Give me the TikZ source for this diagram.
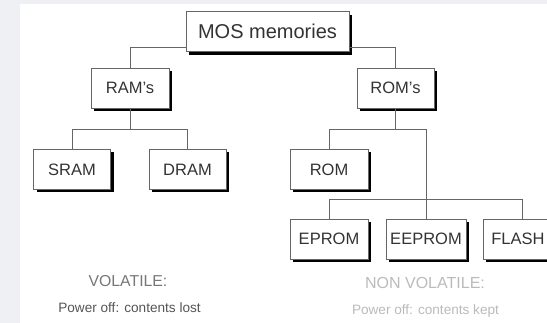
\documentclass[tikz,border=0pt]{standalone}
\usepackage{fontspec}
\setmainfont{Liberation Sans}
\usetikzlibrary{shadows}
\definecolor{bggray}{HTML}{EEF0F4}
\definecolor{edge}{HTML}{666666}
\definecolor{boxtext}{HTML}{333333}
\definecolor{voltext}{HTML}{777777}
\definecolor{lostext}{HTML}{555555}
\definecolor{nvtext}{HTML}{BBBBBB}
\begin{document}
\begin{tikzpicture}[x=1pt,y=-1pt,
  membox/.style={draw=edge, fill=white, line width=0.8pt, inner sep=0pt,
    minimum height=40pt, text=boxtext,
    font=\fontsize{16.5}{18}\selectfont,
    drop shadow={shadow xshift=3pt, shadow yshift=-3pt, fill=black, opacity=1}},
  link/.style={draw=edge, line width=0.8pt},
  caption/.style={inner sep=0pt, anchor=center}]
\useasboundingbox (0,0) rectangle (547,323);
\fill[bggray] (0,0) rectangle (547,323);
\fill[white] (20,4) rectangle (547,323);

\node[membox, minimum width=163pt, font=\fontsize{20}{22}\selectfont] (mos) at (267.5,31.7) {MOS memories};
\node[membox, minimum width=78pt] (rams) at (130,88) {RAM's};
\node[membox, minimum width=77pt] (roms) at (395.5,88) {ROM's};
\node[membox, minimum width=77pt] (sram) at (72,169.5) {SRAM};
\node[membox, minimum width=77pt] (dram) at (187.5,169.5) {DRAM};
\node[membox, minimum width=78pt] (rom) at (329,169.5) {ROM};
\node[membox, minimum width=78pt] (eprom) at (329,239) {EPROM};
\node[membox, minimum width=80pt] (eeprom) at (426,239) {EEPROM};
\node[membox, minimum width=70pt] (flash) at (518,239) {FLASH};

\draw[link] ([yshift=-16pt]mos.west) -| (rams.north);
\draw[link] ([yshift=-16pt]mos.east) -| (roms.north);

\draw[link] (rams.south) -- ++(0,-21pt) coordinate (ra);
\draw[link] (sram.north) |- (ra) -| (dram.north);

\draw[link] (roms.south) -- ++(0,-21pt) coordinate (rb);
\draw[link] (rom.north) |- (rb) -| (eeprom.north);

\draw[link] (eprom.north) -- ++(0,19pt) -| ([xshift=4pt]flash.north);

\node[caption, text=voltext, font=\fontsize{15.8}{18}\selectfont] (vol) at (128,281) {VOLATILE:};
\node[caption, text=lostext, font=\fontsize{13.6}{16}\selectfont] (lost) at (129.5,308) {Power off: contents lost};
\node[caption, text=nvtext, font=\fontsize{16}{18}\selectfont] (nvol) at (425,283) {NON VOLATILE:};
\node[caption, text=nvtext, font=\fontsize{13.6}{16}\selectfont] (kept) at (425.5,311) {Power off: contents kept};
\end{tikzpicture}
\end{document}
